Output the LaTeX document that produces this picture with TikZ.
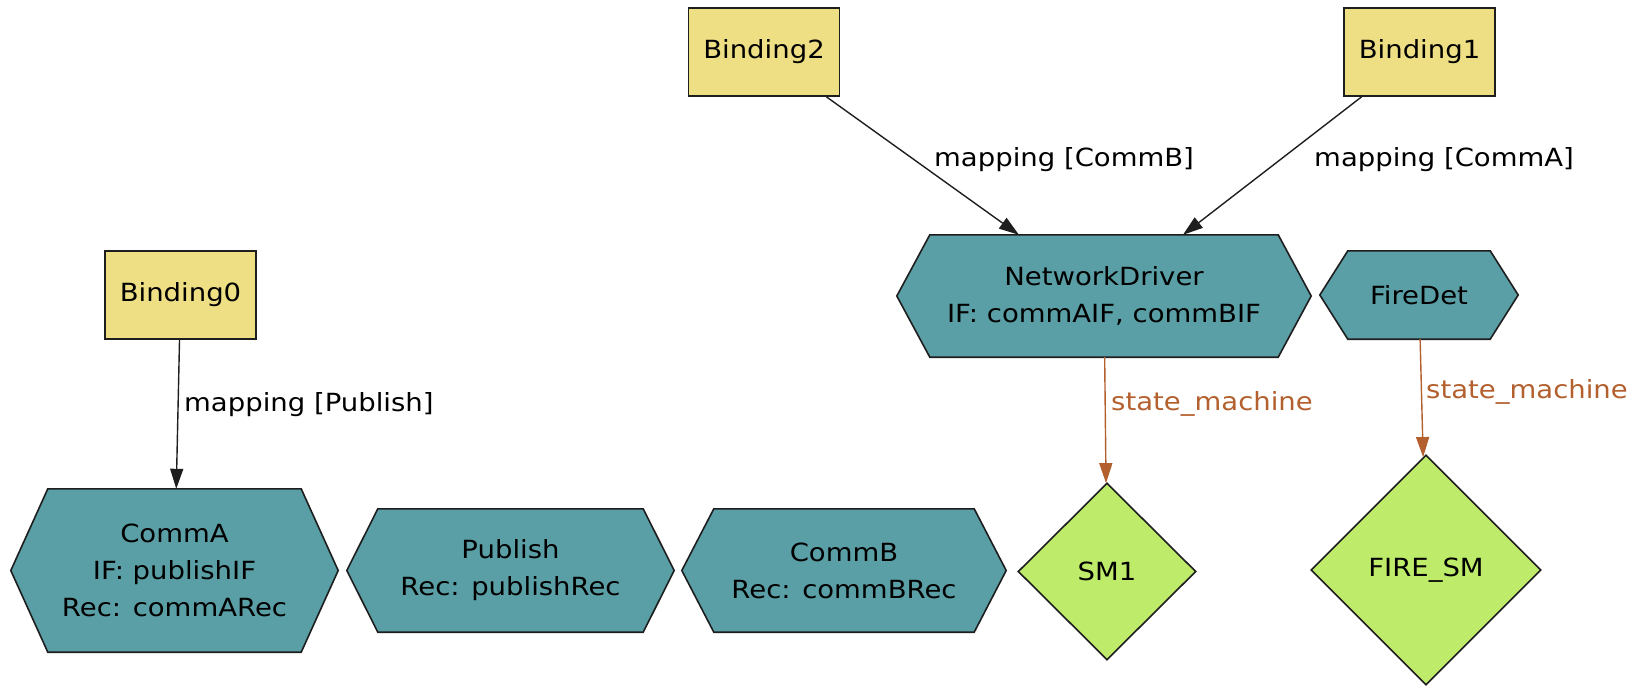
\documentclass[tikz,border=0pt]{standalone}
\usepackage{fontspec}
\setmainfont{DejaVu Sans}[FakeStretch=1.1]
\usetikzlibrary{arrows.meta,calc,shapes.geometric,backgrounds}

\definecolor{hexfill}{HTML}{5A9EA6}
\definecolor{bindfill}{HTML}{EEDE84}
\definecolor{smfill}{HTML}{BEEC6A}
\definecolor{smedge}{HTML}{B3602E}
\definecolor{outline}{HTML}{1E1E1E}

\tikzset{
  txt/.style={font=\fontsize{25}{37}\selectfont, align=center, inner sep=0pt},
  hexbox/.style={txt, rectangle},
  hexpaint/.style={fill=hexfill, draw=outline, line width=1.6pt, line join=miter},
  bindbox/.style={txt, rectangle, draw=outline, line width=1.6pt, fill=bindfill,
    minimum width=151pt, minimum height=88pt},
  smbox/.style={txt, diamond, draw=outline, line width=1.6pt, fill=smfill},
  link/.style={draw=outline, line width=1.4pt,
    -{Triangle[length=20pt,width=13pt]}},
  smlink/.style={draw=smedge, line width=1.4pt,
    -{Triangle[length=20pt,width=13pt]}},
  elabel/.style={txt, anchor=west},
  smlabel/.style={elabel, text=smedge},
}

% hexagonal outline behind a rectangular node; #1 = node name, #2 = side inset
\newcommand\hexoutline[2]{%
  \begin{pgfonlayer}{background}
    \path[hexpaint] ($(#1.north west)+(#2,0)$) -- ($(#1.north east)+(-#2,0)$)
      -- (#1.east) -- ($(#1.south east)+(-#2,0)$)
      -- ($(#1.south west)+(#2,0)$) -- (#1.west) -- cycle;
  \end{pgfonlayer}}

\begin{document}
\begin{tikzpicture}[x=1pt, y=-1pt]
  \useasboundingbox (0,0) rectangle (1643,686);

  % bindings
  \node[bindbox] (b0) at (180.5,295) {Binding0};
  \node[bindbox] (b2) at (764,52)    {Binding2};
  \node[bindbox] (b1) at (1419.5,52) {Binding1};

  % components
  \node[hexbox, minimum width=327pt, minimum height=163pt] (comma) at (174.5,570.5)
    {CommA\\IF: publishIF\\Rec: commARec};
  \node[hexbox, minimum width=327pt, minimum height=123pt] (publish) at (510.5,570.5)
    {Publish\\Rec: publishRec};
  \node[hexbox, minimum width=324pt, minimum height=123pt] (commb) at (844,570.5)
    {CommB\\Rec: commBRec};
  \node[hexbox, minimum width=414pt, minimum height=122pt] (nd) at (1104,296)
    {NetworkDriver\\IF: commAIF, commBIF};
  \node[hexbox, minimum width=198pt, minimum height=88pt] (fire) at (1419,295)
    {FireDet};

  \hexoutline{comma}{37}
  \hexoutline{publish}{31}
  \hexoutline{commb}{32}
  \hexoutline{nd}{33}
  \hexoutline{fire}{28}

  % state machines
  \node[smbox, minimum width=178pt, minimum height=177pt] (sm1) at (1107,571.5) {SM1};
  \node[smbox, minimum width=230pt, minimum height=230pt] (firesm) at (1426,570) {FIRE\_SM};

  % mappings
  \draw[link] (b0) -- (comma);
  \draw[link] (b2) -- (nd);
  \draw[link] (b1) -- (nd);
  \node[elabel] (l0) at (184,405)  {mapping [Publish]};
  \node[elabel] (l2) at (934,160)  {mapping [CommB]};
  \node[elabel] (l1) at (1314,160) {mapping [CommA]};

  % state machine links
  \draw[smlink] (nd) -- (sm1);
  \draw[smlink] (fire) -- (firesm);
  \node[smlabel] (l3) at (1111,404) {state\_machine};
  \node[smlabel] (l4) at (1426,392) {state\_machine};
\end{tikzpicture}
\end{document}
